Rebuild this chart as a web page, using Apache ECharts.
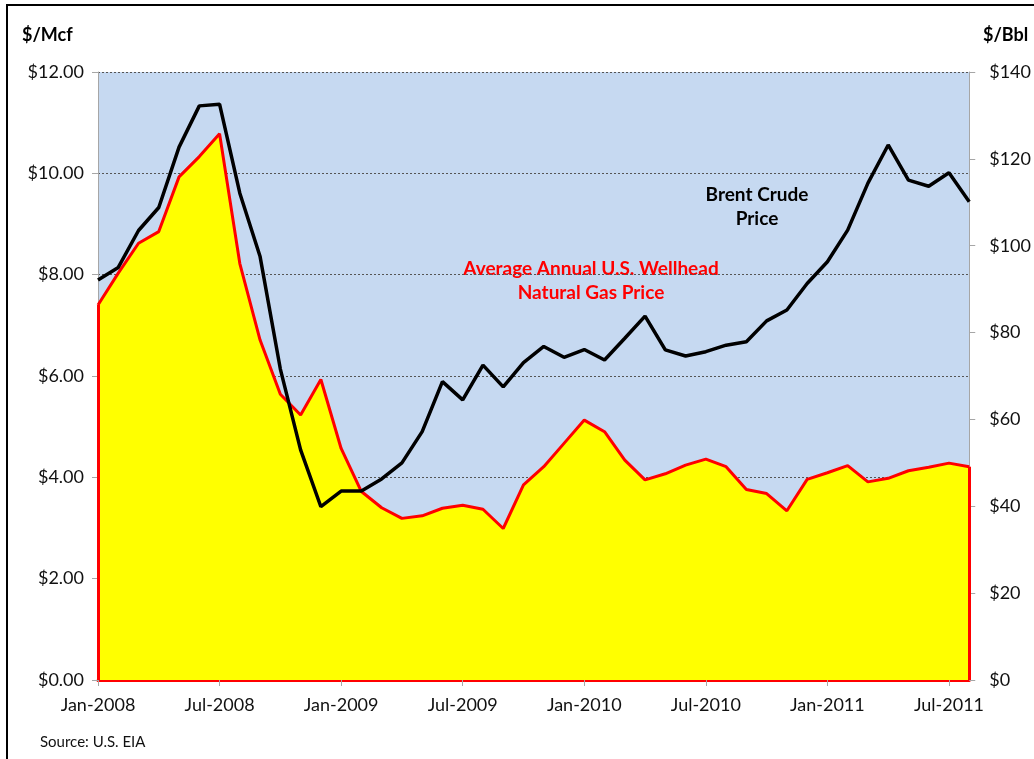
<!DOCTYPE html>
<html>
<head>
<meta charset="utf-8">
<title>Gas vs Brent</title>
<script src="https://cdn.jsdelivr.net/npm/echarts@6/dist/echarts.min.js"></script>
<style>
  html, body { margin: 0; padding: 0; background: #fff; }
  #chart { width: 1034px; height: 759px; }
</style>
</head>
<body>
<div id="chart"></div>
<script>
// month labels Jan-2008 .. Aug-2011
var monthNames = ['Jan','Feb','Mar','Apr','May','Jun','Jul','Aug','Sep','Oct','Nov','Dec'];
var years = [2008, 2009, 2010, 2011];
var months = [];
years.forEach(function (y) {
    monthNames.forEach(function (m, i) {
        if (y < 2011 || i < 8) months.push(m + '-' + y);
    });
});

// U.S. avg wellhead gas price, $/Mcf (left axis)
var gasPrice = [
    7.40, 8.03, 8.62, 8.85, 9.93, 10.33, 10.78, 8.22, 6.71, 5.64, 5.23, 5.93,
    4.57, 3.72, 3.40, 3.19, 3.24, 3.39, 3.45, 3.37, 2.99, 3.85, 4.21, 4.67,
    5.13, 4.90, 4.34, 3.95, 4.07, 4.24, 4.36, 4.21, 3.76, 3.68, 3.34, 3.96,
    4.09, 4.23, 3.91, 3.98, 4.13, 4.20, 4.28, 4.21
];

// Brent crude price, $/Bbl (right axis)
var brentPrice = [
    92.1, 95.0, 103.5, 108.8, 122.7, 132.2, 132.6, 112.1, 97.5, 71.6, 53.0, 39.9,
    43.5, 43.5, 46.3, 50.0, 57.2, 68.7, 64.5, 72.5, 67.5, 73.1, 76.8, 74.3,
    76.1, 73.7, 78.7, 83.8, 76.0, 74.6, 75.6, 77.1, 77.9, 82.7, 85.2, 91.3,
    96.3, 103.6, 114.4, 123.2, 115.1, 113.7, 116.8, 110.1
];

var leftTicks = { min: 0, max: 12, step: 2 };
var rightTicks = { min: 0, max: 140, step: 20 };

var font = 'Lato, "Open Sans", sans-serif';
var last = months.length - 1;

var myChart = echarts.init(document.getElementById('chart'));

var option = {
    animation: false,
    backgroundColor: '#fff',
    textStyle: { fontFamily: font },
    grid: {
        left: 98,
        right: 62,
        top: 72,
        bottom: 79,
        show: true,
        backgroundColor: '#C6D9F1',
        borderWidth: 0
    },
    xAxis: {
        type: 'category',
        data: months,
        boundaryGap: false,
        axisLine: { lineStyle: { color: '#FF0000', width: 3 } },
        axisTick: { interval: 5, length: 6, lineStyle: { color: '#A6A6A6', width: 1 } },
        axisLabel: { interval: 5, color: '#111', fontSize: 18, margin: 16, fontFamily: font },
        splitLine: { show: false }
    },
    yAxis: [
        {
            type: 'value',
            min: leftTicks.min,
            max: leftTicks.max,
            interval: leftTicks.step,
            position: 'left',
            axisLine: { show: true, lineStyle: { color: '#A6A6A6', width: 1 } },
            axisTick: { show: true, length: 6, lineStyle: { color: '#A6A6A6' } },
            axisLabel: {
                color: '#111', fontSize: 18, margin: 14, fontFamily: font,
                formatter: function (v) { return '$' + v.toFixed(2); }
            },
            splitLine: { show: true, lineStyle: { color: '#555', type: [2, 2], width: 1 } }
        },
        {
            type: 'value',
            min: rightTicks.min,
            max: rightTicks.max,
            interval: rightTicks.step,
            position: 'right',
            axisLine: { show: true, lineStyle: { color: '#A6A6A6', width: 1 } },
            axisTick: { show: true, length: 6, lineStyle: { color: '#A6A6A6' } },
            axisLabel: {
                color: '#111', fontSize: 18, margin: 20, fontFamily: font,
                formatter: function (v) { return '$' + v; }
            },
            splitLine: { show: false }
        }
    ],
    series: [
        {
            name: 'U.S. Avg. Wellhead Gas Price',
            type: 'line',
            yAxisIndex: 0,
            data: gasPrice,
            symbol: 'none',
            lineStyle: { color: '#FF0000', width: 3 },
            areaStyle: { color: '#FFFF00', opacity: 1 },
            z: 2,
            markLine: {
                silent: true,
                symbol: 'none',
                label: { show: false },
                lineStyle: { color: '#FF0000', width: 3, type: 'solid' },
                data: [
                    [{ coord: [months[0], 0] }, { coord: [months[0], gasPrice[0]] }],
                    [{ coord: [months[last], 0] }, { coord: [months[last], gasPrice[last]] }]
                ]
            }
        },
        {
            name: 'Brent Crude Price',
            type: 'line',
            yAxisIndex: 1,
            data: brentPrice,
            symbol: 'none',
            lineStyle: { color: '#000000', width: 3.5 },
            z: 3
        }
    ],
    graphic: [
        { type: 'rect', shape: { x: 7, y: 5, width: 1200, height: 900 },
          style: { fill: 'none', stroke: '#000', lineWidth: 2 }, silent: true },
        { type: 'text', left: 22, top: 26,
          style: { text: '$/Mcf', font: 'bold 18px ' + font, fill: '#000' } },
        { type: 'text', left: 983, top: 26,
          style: { text: '$/Bbl', font: 'bold 18px ' + font, fill: '#000' } },
        { type: 'text', x: 757, y: 207,
          style: { text: 'Brent Crude\nPrice', font: 'bold 19px ' + font, fill: '#000',
                   align: 'center', verticalAlign: 'middle', lineHeight: 24 } },
        { type: 'text', x: 591, y: 281,
          style: { text: 'Average Annual U.S. Wellhead\nNatural Gas Price', font: 'bold 19px ' + font,
                   fill: '#FF0000', align: 'center', verticalAlign: 'middle', lineHeight: 24 } },
        { type: 'text', x: 752, y: 598,
          style: { text: 'U.S. Avg. Wellhead\nGas Price', font: 'bold 19px ' + font,
                   fill: '#FF0000', align: 'center', verticalAlign: 'middle', lineHeight: 26 } },
        { type: 'text', left: 40, top: 735,
          style: { text: 'Source: U.S. EIA', font: '15px ' + font, fill: '#111' } }
    ]
};

myChart.setOption(option);
window.addEventListener('resize', function () {
    myChart.resize();
});
</script>
</body>
</html>
